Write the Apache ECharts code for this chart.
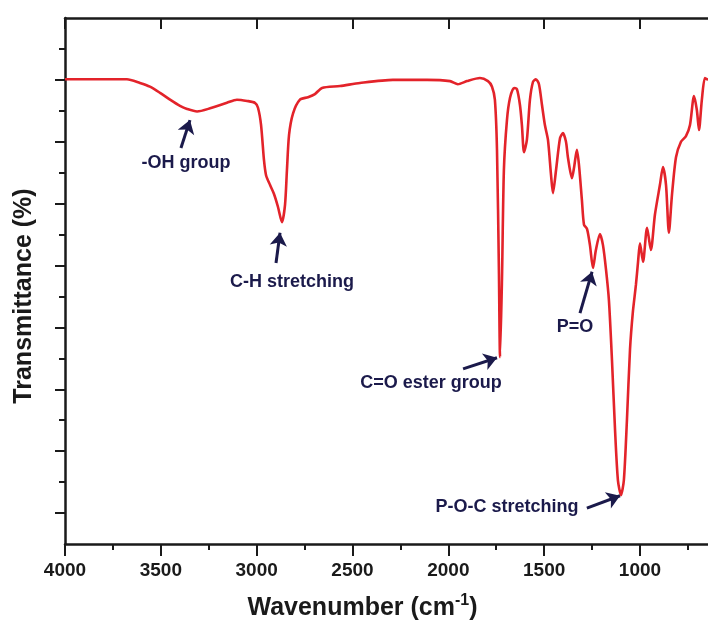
<!DOCTYPE html>
<html>
<head>
<meta charset="utf-8">
<script src="https://cdn.jsdelivr.net/npm/echarts@6/dist/echarts.min.js"></script>
<style>
  html, body { margin: 0; padding: 0; background: #fff; }
  #ftir { width: 708px; height: 628px; }
</style>
</head>
<body>
<div id="ftir"></div>
<script>
// FTIR spectrum (wavenumber in cm-1, transmittance in arbitrary %)
var wavenumber = [4000, 3870, 3765, 3677, 3609, 3557, 3504, 3452, 3400, 3363, 3311, 3243, 3155, 3103, 3050, 3009,
  2993, 2977, 2962, 2951, 2930, 2910, 2889, 2868, 2852, 2842, 2831, 2810, 2774, 2732, 2696, 2659, 2565, 2461,
  2289, 2111, 1991, 1950, 1903, 1835, 1793, 1772, 1757, 1746, 1736, 1730, 1720, 1710, 1694, 1678, 1657, 1642,
  1626, 1616, 1605, 1590, 1574, 1558, 1543, 1527, 1511, 1496, 1480, 1464, 1454, 1438, 1417, 1402, 1386, 1376,
  1355, 1344, 1329, 1318, 1303, 1292, 1276, 1261, 1245, 1230, 1209, 1193, 1177, 1162, 1146, 1130, 1115, 1099,
  1084, 1068, 1052, 1037, 1021, 1010, 1000, 984, 963, 943, 922, 896, 880, 864, 849, 833, 812, 786, 760, 739,
  718, 703, 692, 677, 661, 645];
var transmittance = [75.1, 75.1, 75.1, 75.1, 74.5, 73.9, 72.9, 71.8, 70.8, 70.3, 69.9, 70.4, 71.3, 71.8, 71.6, 71.3,
  70.5, 67.7, 62.1, 59.6, 58.0, 56.6, 54.5, 52.0, 54.8, 60.4, 66.1, 69.6, 71.8, 72.2, 72.7, 73.7, 74.0, 74.5,
  75.0, 75.0, 74.8, 74.3, 74.8, 75.3, 74.8, 73.9, 71.8, 63.7, 44.3, 30.2, 42.7, 60.4, 68.5, 72.1, 73.7, 73.5,
  70.9, 67.7, 63.3, 65.3, 71.8, 74.7, 75.1, 74.3, 70.9, 67.7, 65.3, 59.6, 56.7, 60.4, 65.6, 66.4, 65.0, 62.5,
  59.1, 60.8, 63.7, 61.2, 55.6, 51.6, 50.9, 48.3, 44.6, 47.5, 50.1, 48.3, 44.3, 39.4, 29.7, 18.4, 10.3, 7.9,
  10.3, 20.0, 31.4, 37.5, 41.9, 45.6, 48.6, 45.6, 51.1, 47.5, 53.2, 58.0, 60.9, 58.0, 50.3, 56.4, 62.5, 65.0, 65.9, 67.7,
  72.4, 70.1, 66.9, 71.8, 75.3, 75.0];

var xMajorTicks = [4000, 3500, 3000, 2500, 2000, 1500, 1000];
var xMinorTicks = [3750, 3250, 2750, 2250, 1750, 1250, 750];
var yMajorTicks = [5, 15, 25, 35, 45, 55, 65, 75];
var yMinorTicks = [10, 20, 30, 40, 50, 60, 70, 80];

// band labels: text position, arrow tail, arrow head
var bandNames = ['-OH group', 'C-H stretching', 'C=O ester group', 'P=O', 'P-O-C stretching'];
var bandText = [[3369, 61.6], [2816, 42.3], [2090, 26.0], [1339, 35.1], [1694, 6.0]];
var arrowFrom = [[3395, 64.0], [2899, 45.4], [1923, 28.3], [1313, 37.3], [1277, 5.8]];
var arrowTo = [[3348, 68.5], [2878, 50.3], [1746, 30.1], [1250, 44.0], [1104, 7.8]];

var FONT = 'Liberation Sans';
var INK = '#1a1a1a';
var NAVY = '#1b1a4b';

var chart = echarts.init(document.getElementById('ftir'));

var spectrum = wavenumber.map(function (w, i) { return [w, transmittance[i]]; });

function xAx(pos, ticks, len, inside, extra) {
  return Object.assign({
    type: 'value', position: pos, min: 645, max: 4000, inverse: true,
    axisLine: { show: false },
    axisTick: { show: true, customValues: ticks, length: len, inside: inside, lineStyle: { color: INK, width: 2 } },
    axisLabel: { show: false },
    splitLine: { show: false }
  }, extra || {});
}
function yAx(ticks, len, extra) {
  return Object.assign({
    type: 'value', position: 'left', min: 0, max: 85,
    axisLine: { show: false },
    axisTick: { show: true, customValues: ticks, length: len, inside: false, lineStyle: { color: INK, width: 2 } },
    axisLabel: { show: false },
    splitLine: { show: false }
  }, extra || {});
}

chart.setOption({
  animation: false,
  grid: { left: 65, right: 0, top: 18, bottom: 84 },
  xAxis: [
    xAx('bottom', xMajorTicks, 12, false, {
      axisLine: { show: true, onZero: false, lineStyle: { color: INK, width: 2.5 } },
      axisLabel: {
        show: true, customValues: xMajorTicks, margin: 17,
        formatter: function (v) { return String(v); },
        fontFamily: FONT, fontWeight: 'bold', fontSize: 19, color: INK
      },
      name: 'Wavenumber (cm{sup|-1})',
      nameLocation: 'middle',
      nameGap: 49,
      nameTextStyle: {
        fontFamily: FONT, fontWeight: 'bold', fontSize: 25, color: INK,
        padding: [0, 48, 0, 0],
        rich: {
          sup: { fontFamily: FONT, fontWeight: 'bold', fontSize: 16, color: INK, verticalAlign: 'bottom', padding: [0, 0, 15, 0] }
        }
      }
    }),
    xAx('bottom', xMinorTicks, 6, false),
    xAx('top', xMajorTicks, 11, true, {
      axisLine: { show: true, onZero: false, lineStyle: { color: INK, width: 2.5 } }
    }),
    xAx('top', xMinorTicks, 6, true)
  ],
  yAxis: [
    yAx(yMajorTicks, 10, {
      axisLine: { show: true, onZero: false, lineStyle: { color: INK, width: 2.5 } },
      name: 'Transmittance (%)',
      nameLocation: 'middle',
      nameGap: 28,
      nameTextStyle: {
        fontFamily: FONT, fontWeight: 'bold', fontSize: 25, color: INK,
        padding: [0, 30, 0, 0]
      }
    }),
    yAx(yMinorTicks, 6)
  ],
  series: [{
    type: 'line',
    xAxisIndex: 0,
    yAxisIndex: 0,
    data: spectrum,
    showSymbol: false,
    smooth: 0.25,
    lineStyle: { color: '#e3232a', width: 2.6 },
    markPoint: {
      symbol: 'circle',
      symbolSize: 0,
      silent: true,
      label: {
        show: true, position: 'inside',
        fontFamily: FONT, fontWeight: 'bold', fontSize: 18, color: NAVY
      },
      data: bandNames.map(function (n, i) {
        return { coord: bandText[i], value: n, label: { formatter: n } };
      })
    },
    markLine: {
      silent: true,
      symbol: ['none', 'arrow'],
      symbolSize: 13,
      label: { show: false },
      lineStyle: { color: NAVY, width: 3, type: 'solid' },
      data: arrowFrom.map(function (p, i) {
        return [{ coord: p }, { coord: arrowTo[i] }];
      })
    }
  }]
});
</script>
</body>
</html>
